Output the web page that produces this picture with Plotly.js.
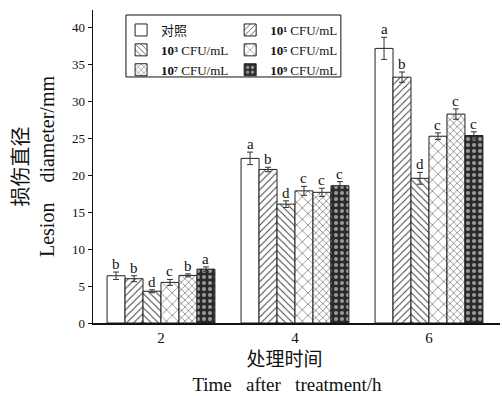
<!DOCTYPE html>
<html><head><meta charset="utf-8">
<script src="https://cdn.plot.ly/plotly-3.0.1.min.js"></script>
<style>html,body{margin:0;padding:0;background:#fff}#chart{width:502px;height:396px}</style>
</head><body><div id="chart"></div>
<script>
const times = [2, 4, 6];
const seriesNames = ["对照", "<b>10¹</b> CFU/mL", "<b>10³</b> CFU/mL", "<b>10⁵</b> CFU/mL", "<b>10⁷</b> CFU/mL", "<b>10⁹</b> CFU/mL"];
const control   = [6.4, 22.3, 37.2];
const cfu1      = [6.0, 20.8, 33.3];
const cfu3      = [4.3, 16.1, 19.6];
const cfu5      = [5.5, 17.9, 25.3];
const cfu7      = [6.45, 17.7, 28.3];
const cfu9      = [7.3, 18.6, 25.4];
const errControl = [0.5, 0.85, 1.5];
const errCfu1    = [0.4, 0.3, 0.7];
const errCfu3    = [0.2, 0.45, 0.8];
const errCfu5    = [0.4, 0.6, 0.45];
const errCfu7    = [0.2, 0.55, 0.7];
const errCfu9    = [0.3, 0.55, 0.5];
const lettersControl = ["b", "a", "a"];
const lettersCfu1    = ["b", "b", "b"];
const lettersCfu3    = ["d", "d", "d"];
const lettersCfu5    = ["c", "c", "c"];
const lettersCfu7    = ["b", "c", "c"];
const lettersCfu9    = ["a", "c", "c"];

const values = [control, cfu1, cfu3, cfu5, cfu7, cfu9];
const errs = [errControl, errCfu1, errCfu3, errCfu5, errCfu7, errCfu9];
const letters = [lettersControl, lettersCfu1, lettersCfu3, lettersCfu5, lettersCfu7, lettersCfu9];

const patterns = [
  {shape: "", bgcolor: "#ffffff", fgcolor: "#333"},
  {shape: "/", bgcolor: "#ffffff", fgcolor: "#333", size: 5, solidity: 0.18},
  {shape: "\\", bgcolor: "#ffffff", fgcolor: "#333", size: 5, solidity: 0.18},
  {shape: "x", bgcolor: "#ffffff", fgcolor: "#333", size: 8, solidity: 0.12},
  {shape: "x", bgcolor: "#ffffff", fgcolor: "#333", size: 5, solidity: 0.18},
  {shape: ".", bgcolor: "#2a2a2a", fgcolor: "#9a9a9a", size: 6, solidity: 0.35}
];
const legendOf = ["legend", "legend2", "legend", "legend2", "legend", "legend2"];

const serif = "Liberation Serif, Times New Roman, Noto Sans CJK SC, serif";
const groupGap = 0.195;
const nSeries = values.length;
const barW = 2 * (1 - groupGap) / nSeries;

const traces = values.map((v, i) => ({
  type: "bar",
  x: times,
  y: v,
  name: seriesNames[i],
  legend: legendOf[i],
  marker: {color: patterns[i].bgcolor, line: {color: "#222", width: 1}, pattern: patterns[i]},
  error_y: {type: "data", array: errs[i], visible: true, color: "#333", thickness: 1, width: 3}
}));

const annotations = [];
values.forEach((v, i) => {
  v.forEach((val, j) => {
    annotations.push({
      x: times[j] + (i - (nSeries - 1) / 2) * barW,
      y: val + errs[i][j],
      xref: "x", yref: "y",
      text: letters[i][j],
      showarrow: false,
      yanchor: "bottom",
      yshift: -2,
      font: {family: serif, size: 15, color: "#111"}
    });
  });
});

const layout = {
  width: 502, height: 396,
  margin: {l: 93, r: 2, t: 10, b: 73},
  paper_bgcolor: "#fff", plot_bgcolor: "#fff",
  barmode: "group", bargap: groupGap, bargroupgap: 0,
  font: {family: serif, color: "#111"},
  xaxis: {
    range: [0.985, 7.06], tickvals: times, ticktext: times.map(String),
    showline: true, linecolor: "#111", linewidth: 1.5, ticks: "", showgrid: false, zeroline: false,
    tickfont: {family: serif, size: 15, color: "#111"},
    title: {text: "处理时间&nbsp;&nbsp;&nbsp;&nbsp;&nbsp;<br>Time&nbsp;&nbsp; after&nbsp;&nbsp; treatment/h&nbsp;&nbsp;&nbsp;&nbsp;",
            font: {family: serif, size: 19, color: "#111"}, standoff: 8}
  },
  yaxis: {
    range: [0, 42.4], tickvals: [0, 5, 10, 15, 20, 25, 30, 35, 40],
    showline: true, linecolor: "#111", linewidth: 1.5, ticks: "outside", ticklen: 4, tickcolor: "#111",
    showgrid: false, zeroline: false,
    tickfont: {family: serif, size: 13, color: "#111"},
    title: {text: "损伤直径<br>Lesion&nbsp;&nbsp;&nbsp; diameter/mm", font: {family: serif, size: 20, color: "#111"}, standoff: 12}
  },
  legend: {x: 0.069, y: 0.984, xanchor: "left", yanchor: "top", bgcolor: "rgba(0,0,0,0)",
           font: {family: serif, size: 13, color: "#111"}, tracegroupgap: 0, itemwidth: 30},
  legend2: {x: 0.337, y: 0.984, xanchor: "left", yanchor: "top", bgcolor: "rgba(0,0,0,0)",
            font: {family: serif, size: 13, color: "#111"}, tracegroupgap: 0, itemwidth: 30},
  shapes: [{type: "rect", xref: "paper", yref: "paper", x0: 0.081, x1: 0.609, y0: 0.786, y1: 0.984,
            line: {color: "#111", width: 1}, fillcolor: "rgba(0,0,0,0)"}],
  annotations: annotations
};

Plotly.newPlot("chart", traces, layout, {displayModeBar: false, staticPlot: true});
</script>
</body></html>
